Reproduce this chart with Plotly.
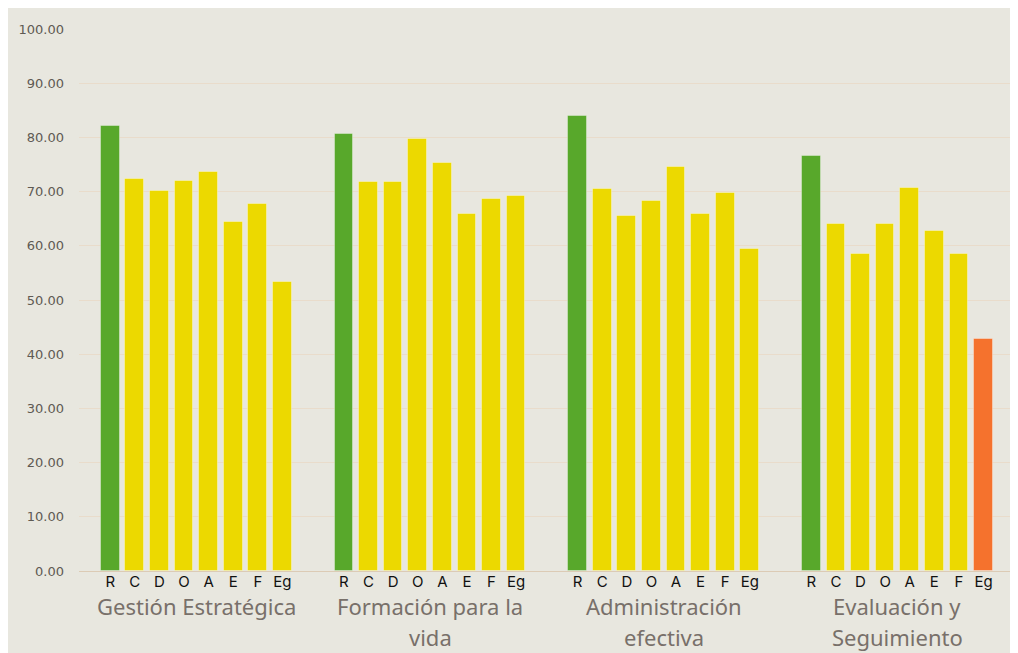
import plotly.graph_objects as go

# data
groups = ["Gestión Estratégica", "Formación para la<br>vida",
          "Administración<br>efectiva", "Evaluación y<br>Seguimiento"]
letters = ["R", "C", "D", "O", "A", "E", "F", "Eg"]

gestion      = [82.1, 72.4, 70.2, 72.0, 73.7, 64.4, 67.7, 53.4]
formacion    = [80.6, 71.7, 71.7, 79.7, 75.2, 65.9, 68.7, 69.1]
administra   = [83.9, 70.4, 65.5, 68.3, 74.5, 65.9, 69.8, 59.4]
evaluacion   = [76.6, 64.0, 58.4, 64.0, 70.7, 62.7, 58.4, 42.8]
series = [gestion, formacion, administra, evaluacion]

_BG     = "#E8E7DF"
_GRID   = "#E9DCCB"
_GREEN  = "#58A82B"
_YELLOW = "#ECD900"
_ORANGE = "#F5722D"
_TICK   = "#5F5A53"
_GROUP  = "#78706A"

STEP = 9.5  # group spacing in bar slots
PLOT_H = 542  # plot area height in px, used to place label lines


def bar_color(letter, value):
    if letter == "R":
        return _GREEN
    if value < 50:
        return _ORANGE
    return _YELLOW


xs, ys, cols, tick_text = [], [], [], []
for g, vals in enumerate(series):
    for i, (l, v) in enumerate(zip(letters, vals)):
        xs.append(g * STEP + i)
        ys.append(v)
        cols.append(bar_color(l, v))
        tick_text.append(l)

fig = go.Figure(go.Bar(
    x=xs, y=ys, width=0.76,
    marker=dict(color=cols, line=dict(color="rgba(255,255,255,0.35)", width=1)),
    hovertemplate="%{y:.2f}<extra></extra>",
))

# group labels, one annotation per line so the line spacing matches
for g, name in enumerate(groups):
    for k, line in enumerate(name.split("<br>")):
        fig.add_annotation(
            x=g * STEP + 3.5, xref="x", yref="paper",
            y=-(35 + 31 * k) / PLOT_H, yanchor="middle",
            showarrow=False, text=line,
            font=dict(family="Noto Sans", size=22, color=_GROUP),
        )

fig.update_layout(
    width=1010, height=645,
    paper_bgcolor=_BG, plot_bgcolor=_BG,
    margin=dict(l=71, r=3, t=21, b=82),
    showlegend=False, bargap=0,
)
fig.update_xaxes(
    range=[-1.27, 36.78], tickvals=xs, ticktext=tick_text,
    tickfont=dict(family="Inter", size=15, color="#111111"),
    showgrid=False, zeroline=False,
    showline=True, linecolor="#DCCBB5", linewidth=1,
    ticks="", ticklabelstandoff=-3,
)
fig.update_yaxes(
    range=[0, 100], dtick=10, tickformat=".2f",
    tickfont=dict(family="DejaVu Sans", size=13, color=_TICK),
    gridcolor=_GRID, gridwidth=1, zeroline=False,
    ticks="", ticklabelstandoff=14,
)

fig.write_html("out.html")
